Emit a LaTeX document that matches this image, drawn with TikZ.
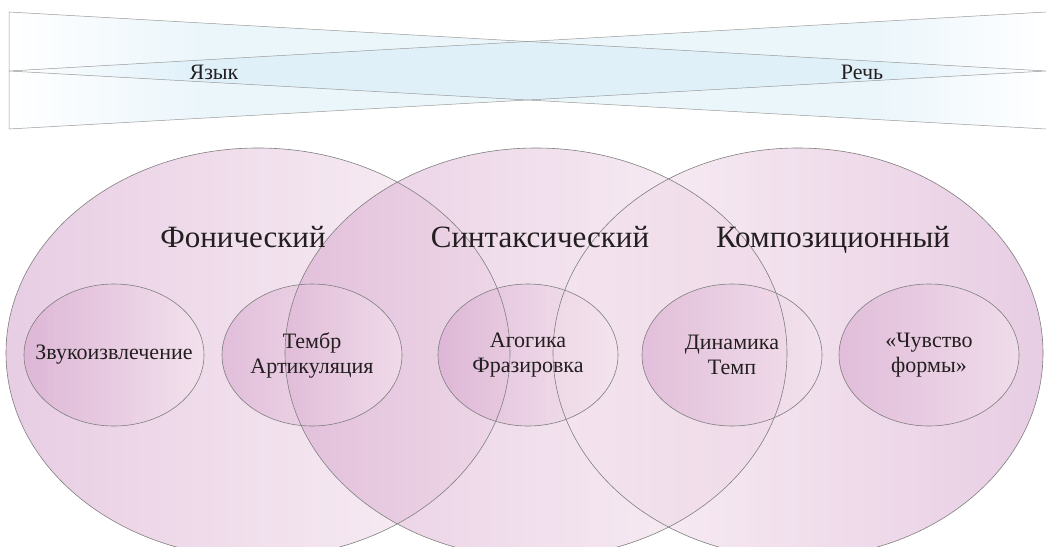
\documentclass[tikz,border=0pt]{standalone}
\usepackage{fontspec}
\setmainfont{Liberation Serif}
\definecolor{bandblue}{HTML}{CEE8F6}
\definecolor{lilacdark}{HTML}{D5A4CC}
\definecolor{lilaclight}{HTML}{F6E7EF}
\definecolor{edgegray}{HTML}{7F7F7F}
\definecolor{inktext}{HTML}{231F20}
\pgfdeclarehorizontalshading{bandfade}{100bp}{color(0bp)=(white); color(25bp)=(white); color(34bp)=(bandblue); color(67bp)=(bandblue); color(75bp)=(white); color(100bp)=(white)}
\begin{document}
\begin{tikzpicture}[x=1pt,y=-1pt,
  band/.style={shade, shading=bandfade, fill opacity=.4},
  bandline/.style={draw=edgegray!80, line width=.5pt},
  darkleft/.style={shade, left color=lilacdark, right color=lilaclight, fill opacity=.55},
  darkright/.style={shade, left color=lilaclight, right color=lilacdark, fill opacity=.55},
  rim/.style={draw=edgegray, line width=.6pt},
  level/.style={text=inktext, anchor=base, font=\fontsize{31}{36}\selectfont},
  item/.style={text=inktext, align=center, font=\fontsize{22}{25}\selectfont},
  pole/.style={text=inktext, font=\fontsize{22}{25}\selectfont}]
\useasboundingbox (0,0) rectangle (1046,546);
\clip (0,0) rectangle (1046,546);
\coordinate (tl) at (9,12); \coordinate (ml) at (9,71); \coordinate (bl) at (9,129);
\coordinate (tr) at (1046,12); \coordinate (mr) at (1046,71); \coordinate (br) at (1046,129);
\path[band] (tl) -- (mr) -- (bl) -- cycle;
\path[band] (ml) -- (tr) -- (br) -- cycle;
\draw[bandline] (tl) -- (mr) -- (bl) -- cycle;
\draw[bandline] (tr) -- (ml) -- (br);
\node[pole] (yazyk) at (214,72) {Язык};
\node[pole] (rech) at (862,72) {Речь};
\coordinate (fon) at (258,353); \coordinate (sin) at (536,353); \coordinate (kom) at (798,353);
\coordinate (zv) at (114,355); \coordinate (tm) at (312,355); \coordinate (ag) at (528,355);
\coordinate (dn) at (732,355); \coordinate (ch) at (929,355);
\path[darkleft] (fon) ellipse [x radius=252pt, y radius=205pt];
\path[darkleft] (sin) ellipse [x radius=251pt, y radius=205pt];
\path[darkright] (kom) ellipse [x radius=245pt, y radius=205pt];
\foreach \c in {zv,tm,ag,dn,ch}
  \path[darkleft] (\c) ellipse [x radius=90pt, y radius=71pt];
\foreach \c/\r in {fon/252,sin/251,kom/245}
  \draw[rim] (\c) ellipse [x radius=\r pt, y radius=205pt];
\foreach \c in {zv,tm,ag,dn,ch}
  \draw[rim] (\c) ellipse [x radius=90pt, y radius=71pt];
\node[level] (fonlabel) at (243,247) {Фонический};
\node[level] (sinlabel) at (540,247) {Синтаксический};
\node[level] (komlabel) at (833,247) {Композиционный};
\node[item] (zvlabel) at (zv) {Звукоизвлечение};
\node[item] (tmlabel) at (tm) {Тембр\\Артикуляция};
\node[item] (aglabel) at (ag) {Агогика\\Фразировка};
\node[item] (dnlabel) at (dn) {Динамика\\Темп};
\node[item] (chlabel) at (ch) {«Чувство\\формы»};
\end{tikzpicture}
\end{document}
